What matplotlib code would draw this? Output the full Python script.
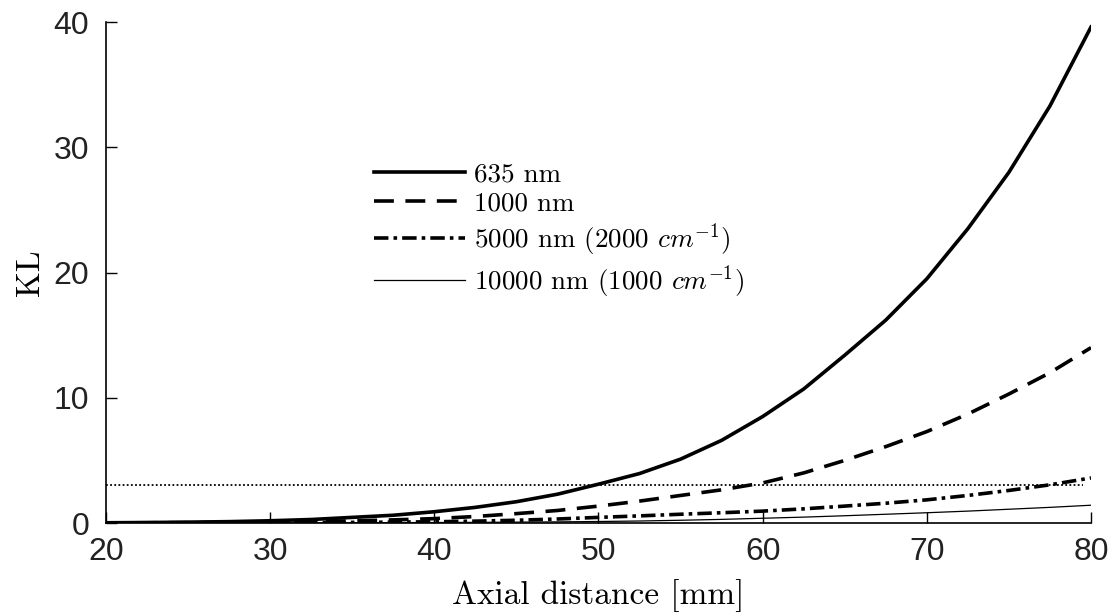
import matplotlib
matplotlib.use("Agg")
import matplotlib.pyplot as plt

plt.rcParams["mathtext.fontset"] = "cm"
plt.rcParams["axes.unicode_minus"] = False

# values
z_mm = [20, 22.5, 25, 27.5, 30, 32.5, 35, 37.5, 40, 42.5, 45, 47.5, 50,
        52.5, 55, 57.5, 60, 62.5, 65, 67.5, 70, 72.5, 75, 77.5, 80]
kl_635 = [0.02, 0.04, 0.07, 0.11, 0.18, 0.28, 0.45, 0.62, 0.9, 1.25, 1.7, 2.3, 3.1,
          3.95, 5.1, 6.6, 8.5, 10.7, 13.4, 16.2, 19.5, 23.5, 28.0, 33.3, 39.6]
kl_1000 = [0.01, 0.02, 0.03, 0.05, 0.07, 0.11, 0.17, 0.25, 0.35, 0.52, 0.75, 1.0, 1.35,
           1.75, 2.2, 2.65, 3.2, 4.0, 5.0, 6.1, 7.3, 8.7, 10.3, 12.0, 14.0]
kl_5000 = [0.0, 0.0, 0.01, 0.01, 0.02, 0.03, 0.05, 0.07, 0.1, 0.15, 0.22, 0.32, 0.45,
           0.57, 0.7, 0.82, 0.95, 1.13, 1.35, 1.58, 1.85, 2.2, 2.6, 3.05, 3.6]
kl_10000 = [0.0, 0.0, 0.0, 0.0, 0.01, 0.01, 0.02, 0.03, 0.04, 0.05, 0.07, 0.09, 0.12,
            0.16, 0.22, 0.29, 0.38, 0.47, 0.58, 0.7, 0.82, 0.95, 1.1, 1.25, 1.42]
threshold = 3
threshold_end = 79.5

labels = ["635 nm", "1000 nm",
          r"5000 nm (2000 $cm^{-1}$)", r"10000 nm (1000 $cm^{-1}$)"]

fig = plt.figure(figsize=(11.11, 6.13), dpi=100)
ax = fig.add_axes([0.0954, 0.1468, 0.8866, 0.8173])

ax.plot(z_mm, kl_635, color="black", lw=2.6, label=labels[0])
ax.plot(z_mm, kl_1000, color="black", lw=2.6, linestyle=(0, (5.5, 3.2)), label=labels[1])
ax.plot(z_mm, kl_5000, color="black", lw=2.6, linestyle=(0, (4, 1.4, 1, 1.4)), label=labels[2])
ax.plot(z_mm, kl_10000, color="black", lw=0.9, label=labels[3])
ax.hlines(threshold, z_mm[0], threshold_end, color="black", lw=1.3, linestyles=(0, (1, 1.3)))

ax.set_xlim(20, 80)
ax.set_ylim(0, 40)
ax.set_xticks(range(20, 81, 10))
ax.set_yticks(range(0, 41, 10))

for s in ["top", "right"]:
    ax.spines[s].set_visible(False)
for s in ["left", "bottom"]:
    ax.spines[s].set_linewidth(1.2)

ax.tick_params(direction="in", length=8, width=1.0, labelsize=23)
ax.tick_params(axis="x", pad=10)
ax.tick_params(axis="y", pad=12)
for lab in ax.get_xticklabels() + ax.get_yticklabels():
    lab.set_fontfamily("Liberation Sans")
    lab.set_color("#222222")

ax.set_xlabel("Axial distance [mm]", fontfamily="cmr10", fontsize=24, labelpad=9)
ax.set_ylabel("KL", fontfamily="cmr10", fontsize=24, labelpad=6)

leg = ax.legend(loc="upper left", bbox_to_anchor=(0.261, 0.742), frameon=False,
                prop={"family": "cmr10", "size": 19.5}, handlelength=3.35,
                handletextpad=0.35, labelspacing=0.2, borderaxespad=0)

plt.savefig("out.png", dpi=100)
